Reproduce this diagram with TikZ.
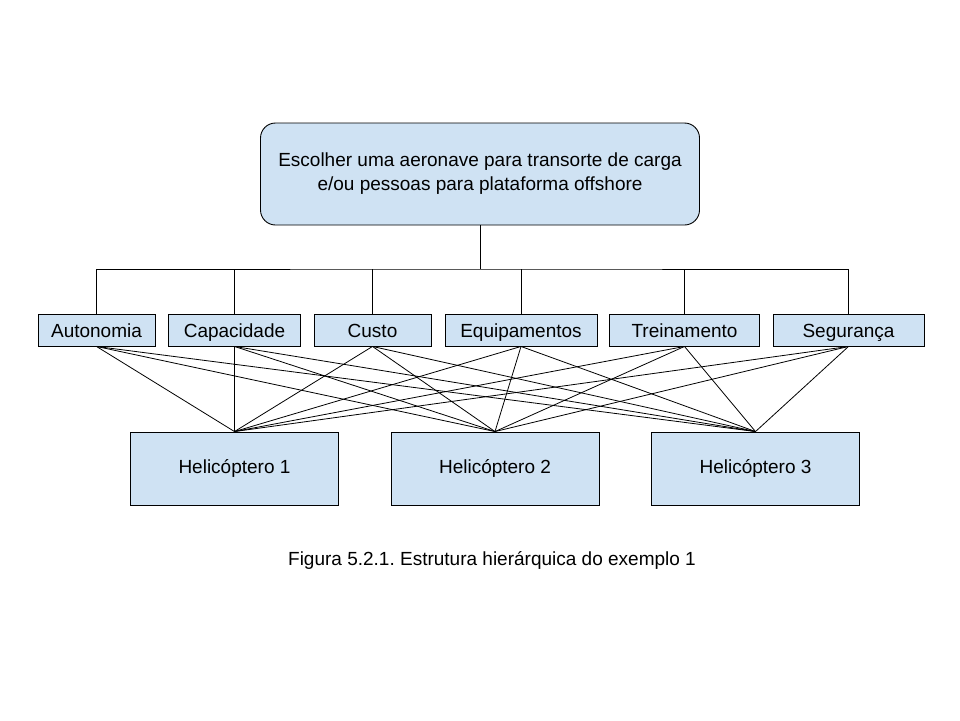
\documentclass[tikz,border=0pt]{standalone}
\usepackage{fontspec}
\setmainfont{Liberation Sans}
\usetikzlibrary{positioning}
\definecolor{boxblue}{HTML}{CFE2F3}
\frenchspacing
\tikzset{
  goalbox/.style={draw,line width=0.9pt,fill=boxblue,rounded corners=15pt,
                  minimum width=439pt,minimum height=102pt,align=center,
                  font=\fontsize{19}{24}\selectfont},
  critbox/.style={draw,line width=0.9pt,fill=boxblue,minimum height=32pt,
                  inner sep=0pt,text height=16pt,text depth=1pt,
                  font=\fontsize{19}{22}\selectfont},
  altbox/.style={draw,line width=0.9pt,fill=boxblue,minimum width=208pt,
                 minimum height=73pt,font=\fontsize{19}{22}\selectfont},
  tree/.style={line width=0.8pt},
}

\begin{document}
\begin{tikzpicture}[x=1pt,y=-1pt]
  \useasboundingbox (0,0) rectangle (960,720);
  % goal
  \node[goalbox] (goal) at (480,174)
    {Escolher uma aeronave para transorte de carga\\e/ou pessoas para plataforma offshore};
  % criteria
  \node[critbox,minimum width=117pt] (aut) at (96.5,330)  {Autonomia};
  \node[critbox,minimum width=132pt] (cap) at (234.5,330) {Capacidade};
  \node[critbox,minimum width=117pt] (cus) at (372.5,330) {Custo};
  \node[critbox,minimum width=152pt] (equ) at (521,330)   {Equipamentos};
  \node[critbox,minimum width=150pt] (tre) at (684.5,330) {Treinamento};
  \node[critbox,minimum width=151pt] (seg) at (848.5,330) {Segurança};
  % alternatives
  \node[altbox] (h1) at (234.5,468.5) {Helicóptero 1};
  \node[altbox] (h2) at (495,468.5)   {Helicóptero 2};
  \node[altbox] (h3) at (755.5,468.5) {Helicóptero 3};
  % caption
  \node[font=\fontsize{19}{22}\selectfont] (cap1) at (492,560)
    {Figura 5.2.1. Estrutura hierárquica do exemplo 1};
  % goal to criteria
  \coordinate (bus) at (480,269);
  \draw[tree] (goal.south) -- (bus);
  \draw[tree] (aut.north) |- (bus) -| (seg.north);
  \foreach \c in {cap,cus,equ,tre}
    \draw[tree] (\c.north) -- (\c.north |- bus);
  % criteria to alternatives
  \foreach \c in {aut,cap,cus,equ,tre,seg}
    \foreach \h in {h1,h2,h3}
      \draw[tree] (\c.south) -- (\h.north);
\end{tikzpicture}
\end{document}
